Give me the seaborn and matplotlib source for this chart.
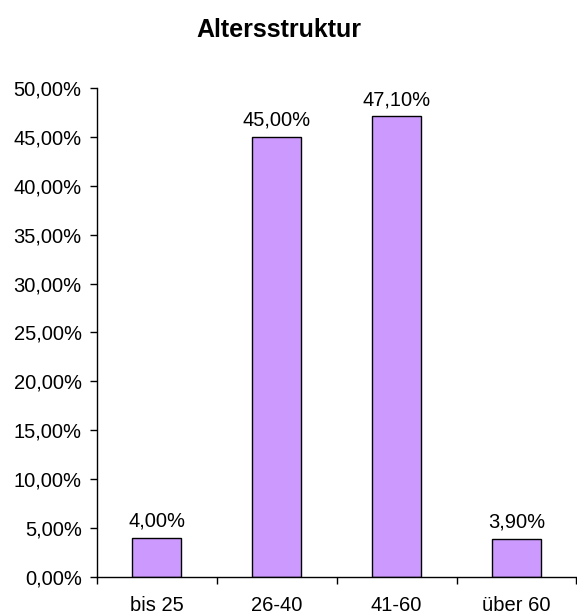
import matplotlib
matplotlib.use("Agg")
import matplotlib.pyplot as plt
import seaborn as sns
import pandas as pd
from matplotlib.ticker import FuncFormatter, FixedLocator

categories = ["bis 25", "26-40", "41-60", "über 60"]
values = [4.00, 45.00, 47.10, 3.90]
y_ticks = [0, 5, 10, 15, 20, 25, 30, 35, 40, 45, 50]

sns.set_theme(style="white")
plt.rcParams['font.family'] = ['Liberation Sans', 'DejaVu Sans']

df = pd.DataFrame({"Alter": categories, "Anteil": values})

fig = plt.figure(figsize=(5.77, 6.16), dpi=100)
ax = fig.add_axes([0.168, 0.0633, 0.831, 0.794])
sns.barplot(data=df, x="Alter", y="Anteil", color="#CC99FF", saturation=1,
            edgecolor="black", linewidth=1.0, width=0.41, ax=ax)

ax.set_xlim(-0.5, 3.5)
ax.set_ylim(0, 50)
ax.set_yticks(y_ticks)
fmt = lambda v, p: f"{v:.2f}".replace(".", ",") + "%"
ax.yaxis.set_major_formatter(FuncFormatter(fmt))
ax.xaxis.set_minor_locator(FixedLocator([-0.5, 0.5, 1.5, 2.5, 3.5]))
ax.tick_params(axis="x", which="major", length=0, pad=14, labelsize=14.5, colors="black")
ax.tick_params(axis="x", which="minor", length=5, width=1, color="black", direction="out", bottom=True)
ax.tick_params(axis="y", which="major", length=5, width=1, color="black", direction="out", left=True,
               labelsize=14.5, labelcolor="black", pad=6)
ax.set_xlabel("")
ax.set_ylabel("")
for s in ["top", "right"]:
    ax.spines[s].set_visible(False)
for s in ["left", "bottom"]:
    ax.spines[s].set_color("black")
    ax.spines[s].set_linewidth(1)

for i, v in enumerate(values):
    ax.annotate(f"{v:.2f}".replace(".", ",") + "%", (i, v), xytext=(0, 5),
                textcoords="offset points", ha="center", va="bottom", fontsize=14.5, color="black")

fig.text(0.484, 0.951, "Altersstruktur", ha="center", va="center", fontsize=18, fontweight="bold", color="black")
fig.savefig("out.png", dpi=100)
